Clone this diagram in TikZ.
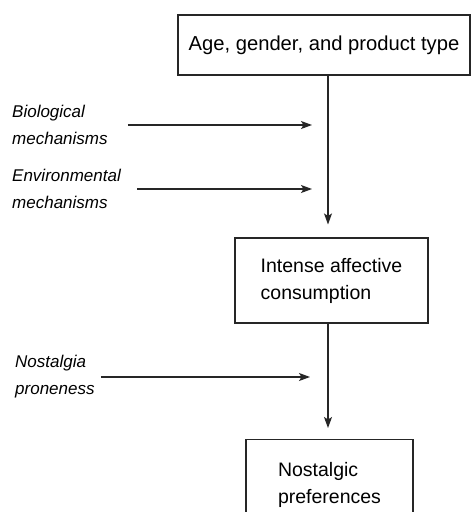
\documentclass[tikz,border=0pt]{standalone}
\usepackage{fontspec}
\setmainfont{Liberation Sans}
\usetikzlibrary{arrows.meta}
\begin{document}
\begin{tikzpicture}[x=1pt,y=-1pt,
  box/.style={draw=black!85, line width=1.1pt, inner sep=0pt},
  boxtext/.style={font=\fontsize{19.5}{27}\selectfont, align=left},
  lbl/.style={anchor=west, align=left, inner sep=0pt, font=\fontsize{17}{27}\selectfont\itshape},
  arr/.style={draw=black!85, line width=1.1pt, -{Stealth[length=11pt,width=8pt,inset=2.5pt]}}]
  % page frame
  \fill[white] (0,0) rectangle (472,512);
  \clip (0,0) rectangle (472,512);
  % boxes
  \node[box, minimum width=292pt, minimum height=60pt, font=\fontsize{20.2}{24}\selectfont] (top) at (324,45) {Age, gender, and product type};
  \node[box, boxtext, minimum width=193pt, minimum height=85pt] (mid) at (331.5,280.5) {Intense affective\\consumption};
  \node[box, boxtext, minimum width=167pt, minimum height=90pt, anchor=north] (pref) at (329.5,439) {Nostalgic\\preferences};
  % side factors
  \node[lbl] (bio) at (12,125) {Biological\\mechanisms};
  \node[lbl] (env) at (12,189) {Environmental\\mechanisms};
  \node[lbl] (nos) at (15,377) {Nostalgia\\proneness};
  % reference columns for the connectors
  \coordinate (trunk) at (328,0);
  \coordinate (stop) at (312,0);
  \coordinate (stopb) at (310,0);
  % main flow
  \draw[arr, shorten >=13pt] (top.south -| trunk) -- (mid.north -| trunk);
  \draw[arr, shorten >=11pt] (mid.south -| trunk) -- (pref.north -| trunk);
  % influences
  \draw[arr, shorten <=20pt] (bio.east) -- (bio.east -| stop);
  \draw[arr, shorten <=16pt] (env.east) -- (env.east -| stop);
  \draw[arr, shorten <=6pt] (nos.east) -- (nos.east -| stopb);
\end{tikzpicture}
\end{document}
